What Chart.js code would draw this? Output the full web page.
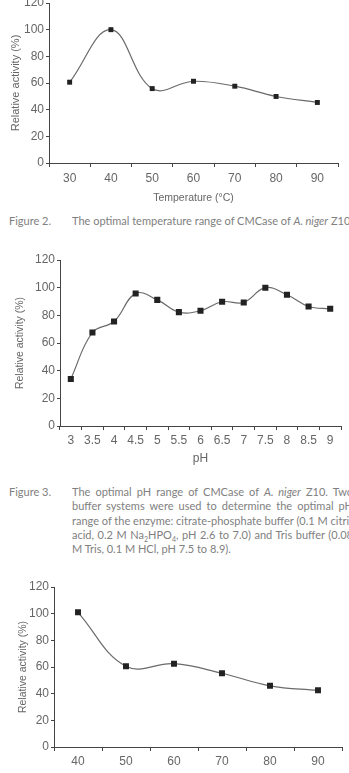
<!DOCTYPE html>
<html>
<head>
<meta charset="utf-8">
<script src="https://cdn.jsdelivr.net/npm/chart.js@4.4.0/dist/chart.umd.min.js"></script>
<style>
  body { margin:0; width:349px; height:773px; overflow:hidden; background:#fff; position:relative; }
  canvas { position:absolute; }
  .cap { position:absolute; font-family:Lato, sans-serif; font-size:11px; color:#808080; white-space:nowrap; line-height:14.3px; }
  .just { position:absolute; left:72px; width:281px; font-family:Lato, sans-serif; font-size:11px; color:#808080; line-height:14.3px; }
  .just div { text-align:justify; text-align-last:justify; white-space:nowrap; height:14.3px; }
  sub { font-size:7px; line-height:0; }
</style>
</head>
<body>
<canvas id="chartTemp" style="left:0;top:-17px"></canvas>
<div class="cap" style="left:9px;top:214px">Figure 2.</div>
<div class="cap" style="left:72px;top:214px">The optimal temperature range of CMCase of <i>A. niger</i> Z10</div>

<canvas id="chartPH" style="left:0;top:240px"></canvas>
<div class="cap" style="left:9px;top:485px">Figure 3.</div>
<div class="just" style="top:485px">
  <div>The optimal pH range of CMCase of <i>A. niger</i> Z10. Two</div>
  <div>buffer systems were used to determine the optimal pH</div>
  <div>range of the enzyme: citrate-phosphate buffer (0.1 M citric</div>
  <div>acid, 0.2 M Na<sub>2</sub>HPO<sub>4</sub>, pH 2.6 to 7.0) and Tris buffer (0.08</div>
  <div style="text-align-last:left">M Tris, 0.1 M HCl, pH 7.5 to 8.9).</div>
</div>

<canvas id="chartStab" style="left:0;top:567px"></canvas>

<script>
// figure 2 - temperature
var tempLabels = ["30","40","50","60","70","80","90"];
var tempValues = [60.6, 100, 55.8, 61.3, 57.6, 49.9, 45.4];

// figure 3 - pH
var phLabels = ["3","3.5","4","4.5","5","5.5","6","6.5","7","7.5","8","8.5","9"];
var phValues = [34, 67.6, 75.5, 95.8, 91.2, 82.3, 83.3, 89.8, 89.3, 100, 94.9, 86.4, 84.7];

// figure 4 - thermostability (cut off)
var stabLabels = ["40","50","60","70","80","90"];
var stabValues = [101, 60.5, 62.5, 55.3, 45.9, 42.5];

var yTicks = [0, 20, 40, 60, 80, 100, 120];

var axisColor = "#444";
var textColor = "#666";

function makeChart(id, w, h, labels, values, cfg) {
  var cv = document.getElementById(id);
  cv.width = w; cv.height = h;
  cv.style.width = w + "px"; cv.style.height = h + "px";
  return new Chart(cv, {
    type: "line",
    data: {
      labels: labels,
      datasets: [{
        data: values,
        borderColor: "#6a6a6a",
        borderWidth: 1.2,
        tension: 0.4,
        pointStyle: "rect",
        pointRadius: cfg.pointR,
        pointBackgroundColor: "#222",
        pointBorderColor: "#222",
        pointBorderWidth: 0
      }]
    },
    options: {
      responsive: false,
      animation: false,
      devicePixelRatio: 1,
      layout: { padding: { left: 0, right: cfg.padRight, top: 20, bottom: 0 } },
      plugins: { legend: { display: false }, tooltip: { enabled: false } },
      scales: {
        x: {
          offset: true,
          grid: { offset: true, drawOnChartArea: false, drawTicks: true, tickLength: 4, color: axisColor },
          border: { display: true, color: axisColor, width: 1 },
          ticks: { color: textColor, font: { family: "Liberation Sans", size: 12 }, padding: cfg.xPad, maxRotation: 0, autoSkip: false },
          title: { display: !!cfg.xTitle, text: cfg.xTitle || "", color: textColor,
                   font: { family: "Liberation Sans", size: cfg.xTitleSize }, padding: { top: 0, bottom: 3 } },
          afterFit: function(s) { s.height = cfg.xH; }
        },
        y: {
          min: 0, max: 120,
          afterBuildTicks: function(s) { s.ticks = yTicks.map(function(v){ return { value: v }; }); },
          grid: { drawOnChartArea: false, drawTicks: true, tickLength: 3, color: axisColor },
          border: { display: true, color: axisColor, width: 1 },
          ticks: { color: textColor, font: { family: "Liberation Sans", size: 12 }, padding: 2 },
          title: { display: true, text: "Relative activity (%)", color: textColor,
                   font: { family: "Liberation Sans", size: cfg.yTitleSize }, padding: { top: cfg.yTitlePad, bottom: 0 } },
          afterFit: function(s) { s.width = cfg.yW; }
        }
      }
    }
  });
}

makeChart("chartTemp", 349, 224, tempLabels, tempValues,
  { pointR: 3.5, padRight: 11, yW: 49, xH: 44, xPad: 4, xTitle: "Temperature (\u00B0C)", xTitleSize: 10.5, yTitleSize: 11, yTitlePad: 9 });

makeChart("chartPH", 349, 229, phLabels, phValues,
  { pointR: 4.3, padRight: 8, yW: 60, xH: 43, xPad: 3, xTitle: "pH", xTitleSize: 12, yTitleSize: 10.5, yTitlePad: 14 });

makeChart("chartStab", 349, 215, stabLabels, stabValues,
  { pointR: 4.2, padRight: 7, yW: 54, xH: 35, xPad: 3, xTitle: "", xTitleSize: 12, yTitleSize: 10.5, yTitlePad: 16.5 });
</script>
</body>
</html>
